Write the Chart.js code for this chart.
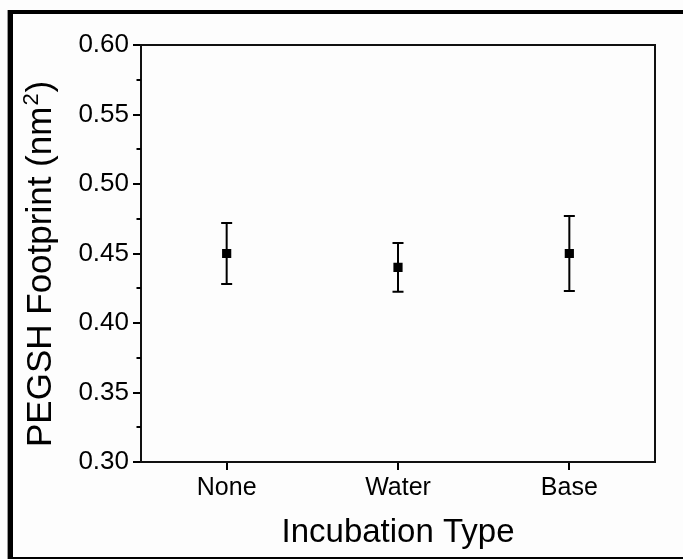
<!DOCTYPE html>
<html>
<head>
<meta charset="utf-8">
<script src="https://cdn.jsdelivr.net/npm/chart.js@4/dist/chart.umd.min.js"></script>
<style>
  html, body { margin: 0; padding: 0; background: #ffffff; }
  #wrap { position: relative; width: 683px; height: 559px; overflow: hidden; background: #fdfdfd; }
  #frame { position: absolute; left: 8px; top: 10px; width: 720px; height: 549px; box-sizing: border-box;
           border-left: 5px solid #000; border-top: 4px solid #000; border-bottom: 2px solid #000;
           box-shadow: -1px 0 0 #999; pointer-events: none; }
  canvas { position: absolute; left: 0; top: 0; }
</style>
</head>
<body>
<div id="wrap">
  <canvas id="c" width="683" height="559"></canvas>
  <div id="frame"></div>
</div>
<script>
// ---- data ----
const categories = ["None", "Water", "Base"];
const footprint = [0.450, 0.440, 0.450];
const errUpper = [0.472, 0.4575, 0.477];
const errLower = [0.428, 0.4225, 0.423];
const yMin = 0.30, yMax = 0.60, yStep = 0.05;
const xTitle = "Incubation Type";
const yTitleMain = "PEGSH Footprint (nm";
const yTitleSup = "2";
const yTitleEnd = ")";

const FONT = "'Liberation Sans', Arial, Helvetica, sans-serif";

const errorBars = {
  id: 'errorBars',
  afterDatasetsDraw(chart) {
    const ctx = chart.ctx, xs = chart.scales.x, ys = chart.scales.y;
    ctx.save();
    ctx.strokeStyle = '#000';
    ctx.lineWidth = 2;
    for (let i = 0; i < categories.length; i++) {
      const x = xs.getPixelForValue(i);
      const yH = ys.getPixelForValue(errUpper[i]);
      const yL = ys.getPixelForValue(errLower[i]);
      ctx.beginPath();
      ctx.moveTo(x, yH); ctx.lineTo(x, yL);
      ctx.moveTo(x - 5.5, yH); ctx.lineTo(x + 5.5, yH);
      ctx.moveTo(x - 5.5, yL); ctx.lineTo(x + 5.5, yL);
      ctx.stroke();
    }
    ctx.restore();
  }
};

const frameAndMinor = {
  id: 'frameAndMinor',
  afterDraw(chart) {
    const ctx = chart.ctx, a = chart.chartArea, ys = chart.scales.y;
    ctx.save();
    ctx.strokeStyle = '#111';
    ctx.lineWidth = 2;
    ctx.strokeRect(a.left, a.top, a.right - a.left, a.bottom - a.top);
    // minor ticks halfway between major ticks on y
    ctx.strokeStyle = '#000';
    ctx.beginPath();
    for (let v = yMin + yStep / 2; v < yMax; v += yStep) {
      const y = Math.round(ys.getPixelForValue(v));
      ctx.moveTo(a.left - 4.5, y); ctx.lineTo(a.left, y);
    }
    ctx.stroke();

    // y axis title with a real superscript
    ctx.fillStyle = '#000';
    ctx.translate(51, 447);
    ctx.rotate(-Math.PI / 2);
    ctx.textBaseline = 'alphabetic';
    ctx.textAlign = 'left';
    ctx.font = "35px " + FONT;
    ctx.fillText(yTitleMain, 0, 0);
    let w = ctx.measureText(yTitleMain).width;
    ctx.font = "22px " + FONT;
    ctx.fillText(yTitleSup, w + 1, -13);
    w += ctx.measureText(yTitleSup).width + 2;
    ctx.font = "35px " + FONT;
    ctx.fillText(yTitleEnd, w, 0);
    ctx.restore();
  }
};

new Chart(document.getElementById('c'), {
  type: 'line',
  data: {
    labels: categories,
    datasets: [{
      data: footprint,
      showLine: false,
      pointStyle: 'rect',
      pointRadius: 6.5,
      pointBorderWidth: 0,
      pointBackgroundColor: '#000',
      pointBorderColor: '#000'
    }]
  },
  options: {
    responsive: false,
    animation: false,
    events: [],
    layout: { padding: { top: 45, right: 28, left: 14, bottom: 3 } },
    plugins: { legend: { display: false }, tooltip: { enabled: false } },
    scales: {
      x: {
        type: 'category',
        offset: true,
        grid: { display: true, drawOnChartArea: false, drawTicks: true, tickLength: 8, color: '#000', lineWidth: 2, offset: false },
        border: { display: true, color: '#000', width: 2 },
        ticks: { color: '#000', font: { family: FONT, size: 25 }, padding: 3, maxRotation: 0 },
        title: { display: true, text: xTitle, color: '#000', font: { family: FONT, size: 33 }, padding: { top: 0, bottom: 3 } },
        afterFit(scale) { scale.height = 94; }
      },
      y: {
        min: yMin, max: yMax,
        grid: { display: true, drawOnChartArea: false, drawTicks: true, tickLength: 8, color: '#000', lineWidth: 2 },
        border: { display: true, color: '#000', width: 2 },
        ticks: { stepSize: yStep, color: '#000', font: { family: FONT, size: 26 }, padding: 4,
                 callback: v => Number(v).toFixed(2) },
        title: { display: false },
        afterFit(scale) { scale.width = 127; }
      }
    }
  },
  plugins: [errorBars, frameAndMinor]
});
</script>
</body>
</html>
